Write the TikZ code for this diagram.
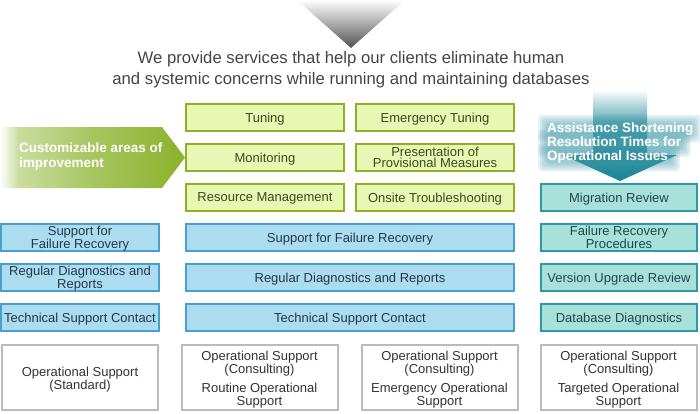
\documentclass[tikz,border=0pt]{standalone}
\usepackage{fontspec}
\setmainfont{Liberation Sans}
\definecolor{gfill}{HTML}{E8F7B4}
\definecolor{gborder}{HTML}{8FB024}
\definecolor{gtext}{HTML}{3C4A1A}
\definecolor{bfill}{HTML}{ACDCF0}
\definecolor{bborder}{HTML}{4AA0CC}
\definecolor{btext}{HTML}{243848}
\definecolor{tfill}{HTML}{A8E0DA}
\definecolor{tborder}{HTML}{2A9AA6}
\definecolor{ttext}{HTML}{1E4850}
\definecolor{grayborder}{HTML}{BBBBBB}
\definecolor{graytext}{HTML}{333333}
\definecolor{headtext}{HTML}{444444}
\definecolor{arrowgreen}{HTML}{8AB22A}
\definecolor{arrowteal}{HTML}{1C8696}
\pgfdeclarehorizontalshading{greenarrowshade}{100bp}{color(0bp)=(white); color(25bp)=(white); color(30bp)=(arrowgreen!45); color(50bp)=(arrowgreen!75); color(75bp)=(arrowgreen); color(100bp)=(arrowgreen)}
\pgfdeclareverticalshading{tealarrowshade}{100bp}{color(0bp)=(arrowteal); color(25bp)=(arrowteal); color(42bp)=(arrowteal!90); color(58bp)=(arrowteal!68); color(69bp)=(arrowteal!25); color(75bp)=(white); color(100bp)=(white)}
\begin{document}
\begin{tikzpicture}[x=1pt,y=-1pt,
  boxfont/.style={font=\fontsize{13}{11.5}\selectfont},
  basebox/.style={boxfont, line width=2pt, inner sep=0pt, align=center, text depth=0pt},
  gbox/.style={basebox, draw=gborder, fill=gfill, text=gtext, minimum width=158pt, minimum height=27pt},
  bbox/.style={basebox, draw=bborder, fill=bfill, text=btext, minimum width=158pt, minimum height=27pt},
  bwide/.style={bbox, minimum width=328pt},
  tbox/.style={basebox, draw=tborder, fill=tfill, text=ttext, minimum width=156pt, minimum height=27pt},
  graybox/.style={draw=grayborder, fill=white, line width=2pt, minimum width=156pt, minimum height=65pt, inner sep=0pt},
  graylabel/.style={boxfont, text=graytext, align=center, inner sep=0pt, text depth=0pt},
  arrowlabel/.style={font=\fontsize{13.5}{14.3}\selectfont\bfseries, align=left, inner sep=0pt, anchor=west, text=white},
  tealglow/.style={fill=arrowteal!85, opacity=0.13, rounded corners=4pt},
]
\useasboundingbox (0,0) rectangle (700,413);

% top gray triangle
\shade[top color=white, bottom color=black!68] (297,0) -- (405,0) -- (351,48) -- cycle;
\node[font=\fontsize{16.7}{21.5}\selectfont, text=headtext, align=center, inner sep=0pt] (head) at (351,69.5)
  {We provide services that help our clients eliminate human\\and systemic concerns while running and maintaining databases};

% green arrow
\shade[shading=greenarrowshade] (0,127) -- (162,127) -- (185,157.5) -- (162,188) -- (0,188) -- cycle;
\node[arrowlabel] (custom) at (19,156.5) {Customizable areas of\\improvement};

% teal arrow
\shade[shading=tealarrowshade] (593,90) -- (647,90) -- (647,155) -- (677,155) -- (620,181) -- (563,155) -- (593,155) -- cycle;
\foreach \yc/\xr in {128.5/693, 143/683, 157.5/672} {
  \foreach \d in {0,2,4,6,8} {
    \fill[tealglow] (546-\d, \yc-6-\d) rectangle (\xr+\d, \yc+6+\d);
  }
}
\node[arrowlabel] (assist) at (547,143) {Assistance Shortening\\Resolution Times for\\Operational Issues};

% green boxes
\node[gbox] (tuning) at (265,117.5) {Tuning};
\node[gbox] (monitor) at (265,157.5) {Monitoring};
\node[gbox] (resource) at (265,197.5) {Resource Management};
\node[gbox] (emerg) at (435,117.5) {Emergency Tuning};
\node[gbox] (present) at (435,157.5) {Presentation of\\Provisional Measures};
\node[gbox] (onsite) at (435,197.5) {Onsite Troubleshooting};

% teal boxes
\node[tbox] (migr) at (619,197.5) {Migration Review};
\node[tbox] (frp) at (619,237.5) {Failure Recovery\\Procedures};
\node[tbox] (vur) at (619,277.5) {Version Upgrade Review};
\node[tbox] (dbd) at (619,317.5) {Database Diagnostics};

% blue boxes left
\node[bbox] (sfr1) at (80,237.5) {Support for\\Failure Recovery};
\node[bbox] (rdr1) at (80,277.5) {Regular Diagnostics and\\Reports};
\node[bbox] (tsc1) at (80,317.5) {Technical Support Contact};

% blue boxes middle
\node[bwide] (sfr2) at (350,237.5) {Support for Failure Recovery};
\node[bwide] (rdr2) at (350,277.5) {Regular Diagnostics and Reports};
\node[bwide] (tsc2) at (350,317.5) {Technical Support Contact};

% gray boxes
\node[graybox] (g1) at (80,377.5) {};
\node[graybox] (g2) at (259.5,377.5) {};
\node[graybox] (g3) at (439.5,377.5) {};
\node[graybox] (g4) at (618.5,377.5) {};
\node[graylabel] (g1a) at (80,378) {Operational Support\\(Standard)};
\node[graylabel] (g2a) at (259.5,362) {Operational Support\\(Consulting)};
\node[graylabel] (g2b) at (259.5,394) {Routine Operational\\Support};
\node[graylabel] (g3a) at (439.5,362) {Operational Support\\(Consulting)};
\node[graylabel] (g3b) at (439.5,394) {Emergency Operational\\Support};
\node[graylabel] (g4a) at (618.5,362) {Operational Support\\(Consulting)};
\node[graylabel] (g4b) at (618.5,394) {Targeted Operational\\Support};
\end{tikzpicture}
\end{document}
